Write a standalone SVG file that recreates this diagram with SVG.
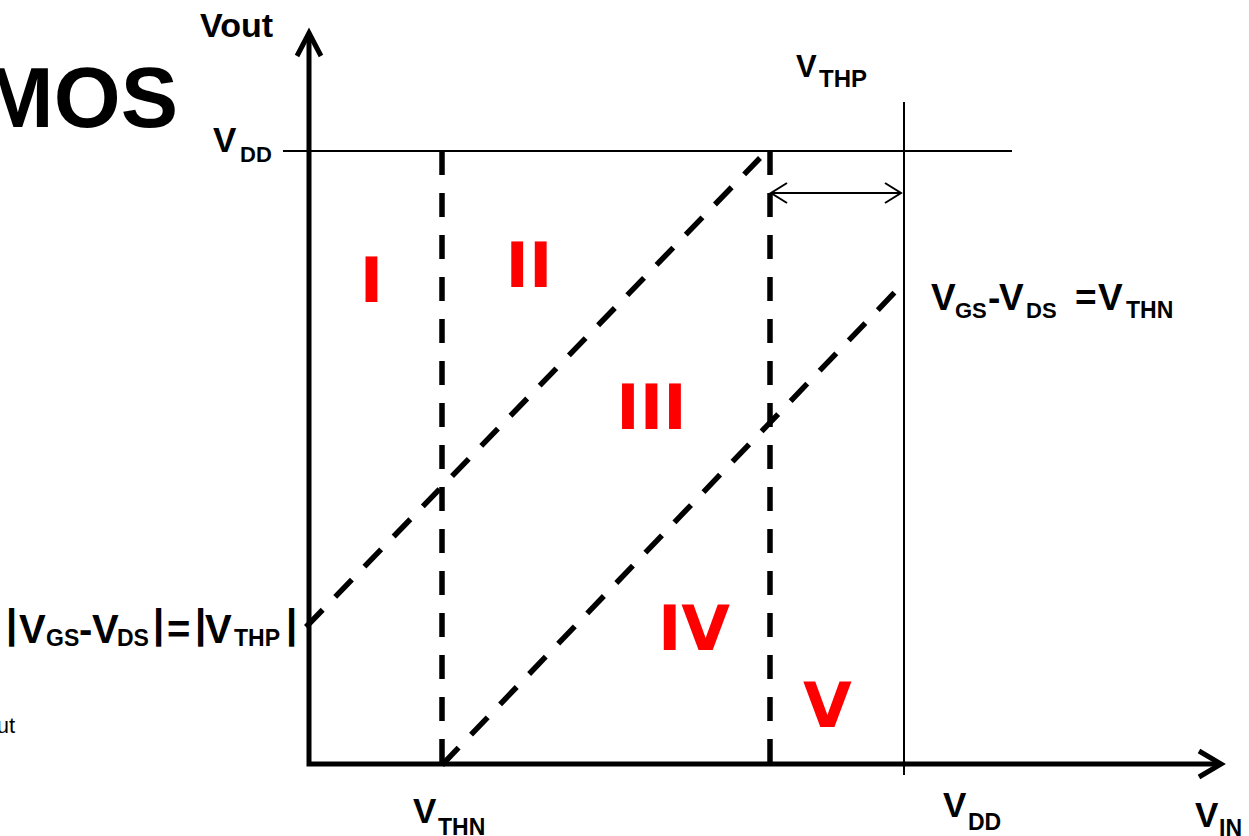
<svg xmlns="http://www.w3.org/2000/svg" width="1249" height="836" viewBox="0 0 1249 836">
  <style>
    .axis { fill: none; stroke: #000; stroke-width: 5; stroke-linejoin: miter; stroke-linecap: butt; }
    .thin { fill: none; stroke: #000; stroke-width: 2; }
    .dash { fill: none; stroke: #000; stroke-width: 5.5; stroke-dasharray: 24 18; }
    .lbl { font-family: "Liberation Sans", Arial, sans-serif; font-weight: bold; fill: #000; }
    .reg { font-family: "DejaVu Sans", sans-serif; font-weight: bold; fill: #FF0000; font-size: 63px; text-anchor: middle; }
    .plain { font-family: "Liberation Sans", Arial, sans-serif; fill: #000; }
  </style>
  <defs>
    <marker id="open" markerUnits="userSpaceOnUse" viewBox="-18 -12 20 24" refX="0" refY="0" markerWidth="20" markerHeight="24" orient="auto-start-reverse">
      <path d="M-16,-10 L0,0 L-16,10" fill="none" stroke="#000" stroke-width="2"/>
    </marker>
  </defs>
  <rect width="1249" height="836" fill="#fff"/>

  <g id="title">
    <text class="lbl" x="178" y="127" font-size="86" text-anchor="end">MOS</text>
    <text class="plain" x="15" y="733" font-size="22" text-anchor="end">ut</text>
  </g>

  <g id="axes">
    <path class="axis" d="M309,34 V764 H1219"/>
    <path class="axis" d="M297,56 L309,33 L321,56"/>
    <path class="axis" d="M1199,751 L1221,764 L1199,777"/>
    <text class="lbl" x="200" y="37" font-size="34">Vout</text>
    <text class="lbl" font-size="35"><tspan x="413" y="823">V</tspan><tspan x="438" y="835" font-size="23">THN</tspan></text>
    <text class="lbl" font-size="35"><tspan x="943" y="817">V</tspan><tspan x="968" y="830" font-size="23">DD</tspan></text>
    <text class="lbl" font-size="35"><tspan x="1195" y="827">V</tspan><tspan x="1219" y="836" font-size="23">IN</tspan></text>
  </g>

  <g id="guides">
    <line class="thin" x1="283" y1="151" x2="1012" y2="151"/>
    <line class="thin" x1="904" y1="102" x2="904" y2="775"/>
    <line class="dash" x1="442" y1="151" x2="442" y2="764"/>
    <line class="dash" x1="770" y1="151" x2="770" y2="764"/>
    <text class="lbl" font-size="35"><tspan x="213" y="152">V</tspan><tspan x="240" y="162" font-size="22">DD</tspan></text>
    <text class="lbl" font-size="31"><tspan x="796" y="77">V</tspan><tspan x="819" y="87" font-size="24">THP</tspan></text>
  </g>

  <g id="connectors">
    <line class="dash" x1="306" y1="627" x2="760" y2="158"/>
    <line class="dash" x1="442" y1="765" x2="897" y2="290"/>
    <line class="thin" x1="771" y1="193" x2="901" y2="193" marker-start="url(#open)" marker-end="url(#open)"/>
  </g>

  <g id="label-vthn">
    <text class="lbl" font-size="37"><tspan x="931" y="310">V</tspan><tspan x="955" y="318" font-size="22">GS</tspan><tspan x="988" y="310">-</tspan><tspan x="999" y="310">V</tspan><tspan x="1026" y="318" font-size="22">DS</tspan><tspan x="1075" y="310">=</tspan><tspan x="1098" y="310">V</tspan><tspan x="1126" y="318" font-size="23">THN</tspan></text>
  </g>

  <g id="label-vthp">
    <text class="lbl" font-size="40"><tspan x="6" y="638">|</tspan><tspan x="19" y="643">V</tspan><tspan x="46" y="646" font-size="23">GS</tspan><tspan x="79" y="643">-</tspan><tspan x="92" y="643">V</tspan><tspan x="117" y="646" font-size="23">DS</tspan><tspan x="153" y="638">|</tspan><tspan x="167" y="643">=</tspan><tspan x="195" y="638">|</tspan><tspan x="205" y="643">V</tspan><tspan x="234" y="646" font-size="23">THP</tspan><tspan x="286" y="638">|</tspan></text>
  </g>

  <g id="regions">
    <text class="reg" x="371.5" y="302">I</text>
    <text class="reg" x="529" y="287">II</text>
    <text class="reg" x="651.5" y="429">III</text>
    <text class="reg" x="694" y="650">IV</text>
    <text class="reg" x="827.5" y="727">V</text>
  </g>
</svg>
